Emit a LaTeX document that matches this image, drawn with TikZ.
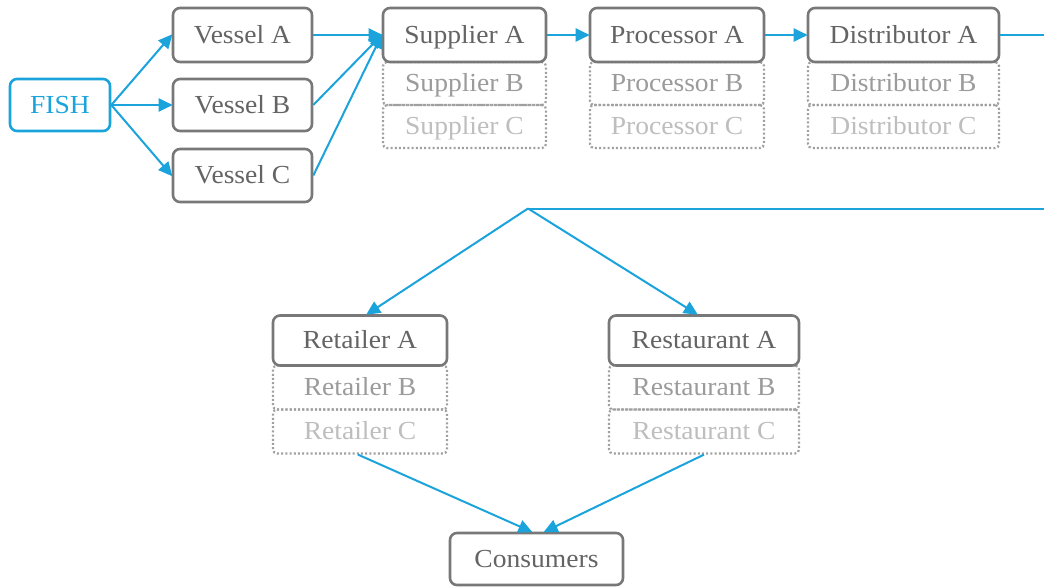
\documentclass[tikz,border=0pt]{standalone}
\usepackage{fontspec}
\setmainfont{Liberation Serif}[FakeStretch=1.06]
\usetikzlibrary{arrows.meta,calc}
\definecolor{fblue}{RGB}{27,163,220}
\definecolor{bordergray}{RGB}{120,120,120}
\definecolor{textA}{RGB}{100,100,100}
\definecolor{textB}{RGB}{155,155,155}
\definecolor{textC}{RGB}{190,190,190}
\definecolor{dotgray}{RGB}{160,160,160}
\tikzset{
  lbl/.style={font=\fontsize{26}{30}\selectfont, inner sep=0pt, text height=19pt, text depth=3pt},
  mainbox/.style={lbl, draw=bordergray, line width=2.6pt, rounded corners=7pt, fill=white, text=textA},
  fishbox/.style={lbl, draw=fblue, line width=2.6pt, rounded corners=7pt, fill=white, text=fblue},
  altbox/.style={lbl, draw=dotgray, line width=2.2pt, dash pattern=on 2pt off 2.2pt, rounded corners=4pt},
  boxB/.style={altbox, text=textB},
  boxC/.style={altbox, text=textC},
  conn/.style={draw=fblue, line width=2pt},
  arr/.style={conn, -{Triangle[length=14pt,width=13pt]}, shorten >=-1pt}
}
\begin{document}
\begin{tikzpicture}[x=1pt,y=-1pt]
\useasboundingbox (0,0) rectangle (1044,587);
\fill[white] (0,0) rectangle (1044,587);

% dotted B/C boxes (drawn first so main boxes cover their top)
\node[boxB, minimum width=163, minimum height=43] (supB) at (464.5,83.5) {Supplier B};
\node[boxC, minimum width=163, minimum height=43] (supC) at (464.5,126.5) {Supplier C};
\node[boxB, minimum width=174, minimum height=43] (proB) at (677,83.5) {Processor B};
\node[boxC, minimum width=174, minimum height=43] (proC) at (677,126.5) {Processor C};
\node[boxB, minimum width=191, minimum height=43] (disB) at (903.5,83.5) {Distributor B};
\node[boxC, minimum width=191, minimum height=43] (disC) at (903.5,126.5) {Distributor C};
\node[boxB, minimum width=174, minimum height=44] (retB) at (360,387.5) {Retailer B};
\node[boxC, minimum width=174, minimum height=44] (retC) at (360,431.5) {Retailer C};
\node[boxB, minimum width=190, minimum height=44] (resB) at (704,387.5) {Restaurant B};
\node[boxC, minimum width=190, minimum height=44] (resC) at (704,431.5) {Restaurant C};

% main boxes
\node[fishbox, minimum width=100, minimum height=52] (fish) at (60,105) {FISH};
\node[mainbox, minimum width=139, minimum height=54] (vesA) at (242.5,35) {Vessel A};
\node[mainbox, minimum width=139, minimum height=52] (vesB) at (242.5,105) {Vessel B};
\node[mainbox, minimum width=139, minimum height=53] (vesC) at (242.5,175.5) {Vessel C};
\node[mainbox, minimum width=163, minimum height=54] (supA) at (464.5,35) {Supplier A};
\node[mainbox, minimum width=174, minimum height=54] (proA) at (677,35) {Processor A};
\node[mainbox, minimum width=191, minimum height=54] (disA) at (903.5,35) {Distributor A};
\node[mainbox, minimum width=174, minimum height=50] (retA) at (360,340.5) {Retailer A};
\node[mainbox, minimum width=190, minimum height=50] (resA) at (704,340.5) {Restaurant A};
\node[mainbox, minimum width=173, minimum height=52] (cons) at (536.5,559) {Consumers};

% connectors
\draw[arr] (fish.east) -- (vesA.west);
\draw[arr] (fish.east) -- (vesB.west);
\draw[arr] (fish.east) -- (vesC.west);
\draw[arr] (vesA.east) -- (supA.west);
\draw[arr] (vesB.east) -- (supA.west);
\draw[arr] (vesC.east) -- (supA.west);
\draw[arr] (supA.east) -- (proA.west);
\draw[arr] (proA.east) -- (disA.west);

\coordinate (exitT) at (1046,35);
\coordinate (exitB) at (1046,208.5);
\coordinate (split) at (528,208.5);
\draw[conn] (disA.east) -- (exitT);
\draw[conn] (exitB) -- (split);
\draw[arr] (split) -- ($(retA.north)+(7,0)$);
\draw[arr] (split) -- ($(resA.north)+(-7,0)$);
\draw[arr] ($(retC.south)+(-2,0)$) -- ($(cons.north)+(-5,0)$);
\draw[arr] (resC.south) -- ($(cons.north)+(8,0)$);
\end{tikzpicture}
\end{document}
